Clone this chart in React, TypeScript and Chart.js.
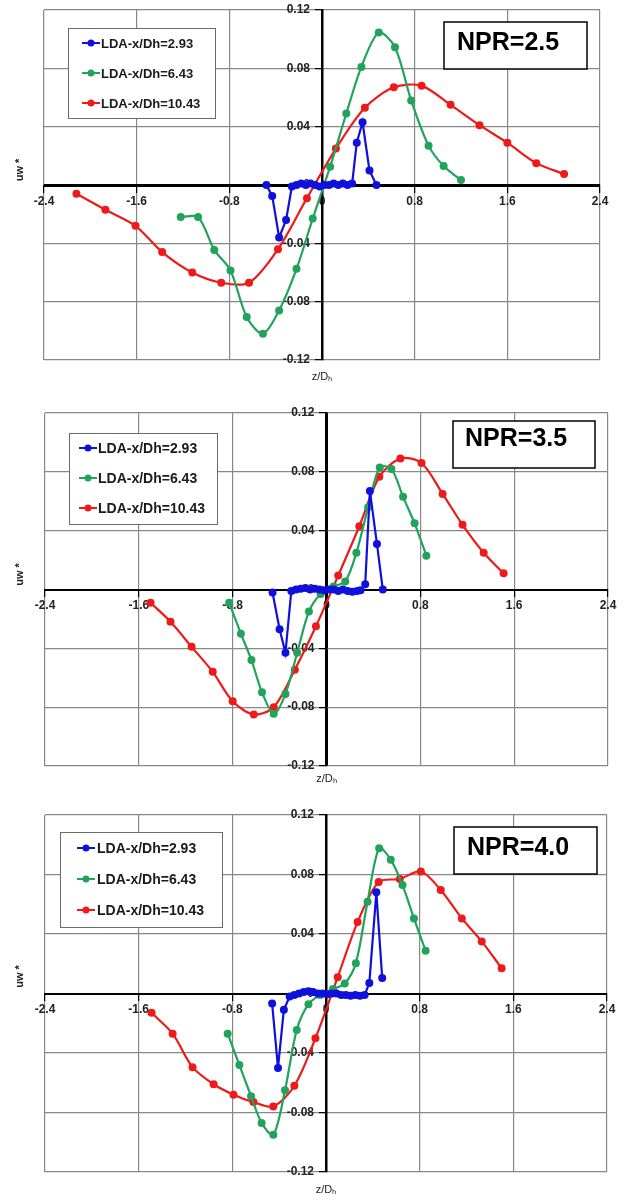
import React, { useEffect, useRef } from "react";
import { Chart, registerables } from "chart.js";

Chart.register(...registerables);

// ---------- tick values / labels ----------
const xTickValues = [-2.4, -1.6, -0.8, 0, 0.8, 1.6, 2.4];
const xTickLabels = ["-2.4", "-1.6", "-0.8", "0", "0.8", "1.6", "2.4"];
const yTickValues = [-0.12, -0.08, -0.04, 0, 0.04, 0.08, 0.12];
const yTickLabels = ["-0.12", "-0.08", "-0.04", "0", "0.04", "0.08", "0.12"];
const xAxisTitle = "z/D\u2095";
const yAxisTitle = "uw *";
const seriesNames = ["LDA-x/Dh=2.93", "LDA-x/Dh=6.43", "LDA-x/Dh=10.43"];
const panelTitles = ["NPR=2.5", "NPR=3.5", "NPR=4.0"];

// ---------- Panel 1 : NPR=2.5 ----------
const p1BlueX = [-0.48, -0.43, -0.37, -0.31, -0.26, -0.22, -0.18, -0.14, -0.1, -0.06, -0.02, 0.02, 0.06, 0.1, 0.14, 0.18, 0.22, 0.26, 0.3, 0.35, 0.41, 0.47];
const p1BlueY = [0.0, -0.0075, -0.036, -0.024, -0.001, 0.0, 0.001, 0.0, 0.001, 0.0, -0.001, 0.0, 0.0, 0.001, 0.0, 0.001, 0.0, 0.001, 0.029, 0.043, 0.01, 0.0];
const p1GreenX = [-1.22, -1.07, -0.93, -0.79, -0.65, -0.51, -0.37, -0.22, -0.08, 0.07, 0.21, 0.34, 0.49, 0.63, 0.77, 0.92, 1.05, 1.2];
const p1GreenY = [-0.022, -0.022, -0.0445, -0.0586, -0.0905, -0.102, -0.086, -0.0575, -0.023, 0.0125, 0.049, 0.081, 0.1045, 0.0944, 0.058, 0.027, 0.013, 0.0034];
const p1RedX = [-2.12, -1.87, -1.61, -1.38, -1.12, -0.87, -0.63, -0.38, -0.13, 0.12, 0.37, 0.62, 0.86, 1.11, 1.36, 1.6, 1.85, 2.09];
const p1RedY = [-0.006, -0.017, -0.028, -0.046, -0.06, -0.067, -0.067, -0.044, -0.009, 0.025, 0.053, 0.067, 0.068, 0.055, 0.041, 0.029, 0.015, 0.0075];

// ---------- Panel 2 : NPR=3.5 ----------
const p2BlueX = [-0.46, -0.4, -0.35, -0.3, -0.26, -0.22, -0.18, -0.14, -0.1, -0.06, -0.02, 0.02, 0.06, 0.1, 0.14, 0.18, 0.22, 0.26, 0.29, 0.33, 0.37, 0.43, 0.48];
const p2BlueY = [-0.002, -0.027, -0.043, -0.001, 0.0, 0.0005, 0.001, 0.0, 0.0005, 0.0, -0.0005, 0.0, 0.0, -0.001, 0.0, -0.001, -0.0015, -0.001, -0.0005, 0.0035, 0.067, 0.031, 0.0];
const p2GreenX = [-0.83, -0.73, -0.64, -0.55, -0.45, -0.35, -0.25, -0.15, -0.05, 0.06, 0.16, 0.255, 0.355, 0.454, 0.553, 0.653, 0.751, 0.851];
const p2GreenY = [-0.009, -0.03, -0.048, -0.0698, -0.0845, -0.071, -0.043, -0.015, -0.003, 0.002, 0.0055, 0.025, 0.056, 0.083, 0.082, 0.063, 0.045, 0.023];
const p2RedX = [-1.5, -1.33, -1.15, -0.97, -0.8, -0.62, -0.45, -0.27, -0.09, 0.1, 0.28, 0.45, 0.63, 0.81, 0.99, 1.16, 1.34, 1.51];
const p2RedY = [-0.009, -0.022, -0.039, -0.056, -0.076, -0.085, -0.08, -0.0545, -0.025, 0.0095, 0.043, 0.0766, 0.089, 0.086, 0.065, 0.044, 0.025, 0.011];

// ---------- Panel 3 : NPR=4.0 ----------
const p3BlueX = [-0.46, -0.41, -0.36, -0.31, -0.27, -0.23, -0.19, -0.15, -0.11, -0.07, -0.03, 0.01, 0.05, 0.09, 0.13, 0.17, 0.21, 0.25, 0.29, 0.33, 0.37, 0.43, 0.48];
const p3BlueY = [-0.0068, -0.05, -0.011, -0.002, -0.001, 0.0, 0.001, 0.0015, 0.001, 0.0, 0.0, -0.0005, 0.0, 0.0, -0.001, -0.001, -0.0015, -0.001, -0.0015, -0.001, 0.007, 0.068, 0.0105];
const p3GreenX = [-0.84, -0.74, -0.64, -0.55, -0.45, -0.35, -0.25, -0.15, -0.05, 0.06, 0.16, 0.255, 0.355, 0.454, 0.553, 0.653, 0.751, 0.851];
const p3GreenY = [-0.027, -0.048, -0.069, -0.087, -0.095, -0.065, -0.0245, -0.0072, -0.001, 0.003, 0.0067, 0.0204, 0.0617, 0.0976, 0.09, 0.073, 0.0505, 0.0287];
const p3RedX = [-1.49, -1.31, -1.14, -0.96, -0.79, -0.62, -0.45, -0.27, -0.09, 0.1, 0.27, 0.45, 0.63, 0.81, 0.98, 1.16, 1.33, 1.5];
const p3RedY = [-0.013, -0.027, -0.0495, -0.061, -0.068, -0.073, -0.076, -0.062, -0.03, 0.011, 0.048, 0.075, 0.077, 0.082, 0.0696, 0.0505, 0.035, 0.017];

const seriesColors = ["#1010dc", "#22a35c", "#ee1a1a"];
const seriesTension = [0, 0.3, 0.3];

const FONT = "'Liberation Sans', Arial, sans-serif";

const zip = (xs: number[], ys: number[]) => xs.map((x, i) => ({ x, y: ys[i] }));

const panelDecor = {
  id: "panelDecor",
  afterDraw(chart: any, _args: any, opts: any) {
    const ctx = chart.ctx;
    const { left, top, bottom } = chart.chartArea;
    ctx.save();
    // y axis title (rotated)
    ctx.save();
    ctx.translate(opts.yTitle.x, (top + bottom) / 2 - opts.yTitle.lift);
    ctx.rotate(-Math.PI / 2);
    ctx.fillStyle = "#222222";
    ctx.font = `bold 11px ${FONT}`;
    ctx.textAlign = "center";
    ctx.textBaseline = "middle";
    ctx.fillText(yAxisTitle, 0, 0);
    ctx.restore();
    // legend
    const lb = opts.legend;
    const bx = left + lb.x;
    const by = top + lb.y;
    ctx.fillStyle = "#ffffff";
    ctx.fillRect(bx, by, lb.w, lb.h);
    ctx.strokeStyle = "#6a6a6a";
    ctx.lineWidth = 1;
    ctx.strokeRect(bx + 0.5, by + 0.5, lb.w, lb.h);
    chart.data.datasets.forEach((ds: any, i: number) => {
      const cy = by + lb.rows[i];
      const lx = bx + lb.lineX;
      ctx.strokeStyle = ds.borderColor;
      ctx.lineWidth = 2;
      ctx.beginPath();
      ctx.moveTo(lx, cy);
      ctx.lineTo(lx + lb.lineLen, cy);
      ctx.stroke();
      ctx.fillStyle = ds.borderColor;
      ctx.beginPath();
      ctx.arc(lx + lb.lineLen / 2, cy, 3.5, 0, Math.PI * 2);
      ctx.fill();
      ctx.fillStyle = "#1a1a1a";
      ctx.font = lb.font;
      ctx.textAlign = "left";
      ctx.textBaseline = "middle";
      ctx.fillText(ds.label, bx + lb.textX, cy + 1);
    });
    // NPR box
    const nb = opts.npr;
    const nx = left + nb.x;
    const ny = top + nb.y;
    ctx.fillStyle = "#ffffff";
    ctx.fillRect(nx, ny, nb.w, nb.h);
    ctx.strokeStyle = "#000000";
    ctx.lineWidth = 1.5;
    ctx.strokeRect(nx, ny, nb.w, nb.h);
    ctx.fillStyle = "#000000";
    ctx.font = `bold 25px ${FONT}`;
    ctx.textAlign = "left";
    ctx.textBaseline = "alphabetic";
    ctx.fillText(nb.text, nx + nb.textX, ny + nb.baseline);
    ctx.restore();
  },
};

type PanelCfg = {
  top: number;
  height: number;
  padTop: number;
  padRight: number;
  padLeft: number;
  xTitleHeight: number;
  xTitlePad: number;
  title: string;
  xs: number[][];
  ys: number[][];
  legend: any;
  npr: any;
  yTitle: any;
};

const panels: PanelCfg[] = [
  {
    top: 0, height: 390, padTop: 10, padRight: 24, padLeft: 44, xTitleHeight: 30, xTitlePad: 6,
    title: panelTitles[0],
    xs: [p1BlueX, p1GreenX, p1RedX], ys: [p1BlueY, p1GreenY, p1RedY],
    legend: { x: 24, y: 18, w: 147, h: 90, rows: [15, 45, 75], lineX: 14, lineLen: 18, textX: 33, font: `bold 13px ${FONT}` },
    npr: { x: 400, y: 12, w: 143, h: 47, textX: 13, baseline: 28 },
    yTitle: { x: 20, lift: 15 },
  },
  {
    top: 390, height: 410, padTop: 23, padRight: 16, padLeft: 45, xTitleHeight: 34, xTitlePad: 14,
    title: panelTitles[1],
    xs: [p2BlueX, p2GreenX, p2RedX], ys: [p2BlueY, p2GreenY, p2RedY],
    legend: { x: 24, y: 20, w: 148, h: 91, rows: [15, 45, 75], lineX: 10, lineLen: 18, textX: 29, font: `bold 14px ${FONT}` },
    npr: { x: 408, y: 8, w: 142, h: 47, textX: 12, baseline: 25 },
    yTitle: { x: 20, lift: 15 },
  },
  {
    top: 800, height: 399, padTop: 15, padRight: 17, padLeft: 45, xTitleHeight: 27, xTitlePad: 2,
    title: panelTitles[2],
    xs: [p3BlueX, p3GreenX, p3RedX], ys: [p3BlueY, p3GreenY, p3RedY],
    legend: { x: 15, y: 17, w: 162, h: 95, rows: [16, 47, 78], lineX: 17, lineLen: 18, textX: 37, font: `bold 14px ${FONT}` },
    npr: { x: 409, y: 12, w: 143, h: 47, textX: 13, baseline: 28 },
    yTitle: { x: 20, lift: 17 },
  },
];

function Panel({ cfg }: { cfg: PanelCfg }) {
  const ref = useRef<HTMLCanvasElement | null>(null);
  useEffect(() => {
    if (!ref.current) return;
    const datasets = seriesNames.map((name, i) => ({
      label: name,
      data: zip(cfg.xs[i], cfg.ys[i]),
      borderColor: seriesColors[i],
      backgroundColor: seriesColors[i],
      borderWidth: 2.2,
      pointRadius: 4,
      pointBorderWidth: 0,
      pointBackgroundColor: seriesColors[i],
      tension: seriesTension[i],
      showLine: true,
      fill: false,
      xAxisID: "x",
      yAxisID: "y",
    }));
    const gridColor = (c: any) => (c.tick && c.tick.value === 0 ? "#000000" : "#888888");
    const gridWidth = (c: any) => (c.tick && c.tick.value === 0 ? 2 : 1.2);
    const zeroPad = (s: any) => {
      s.paddingTop = 0;
      s.paddingBottom = 0;
      s.paddingLeft = 0;
      s.paddingRight = 0;
    };
    const chart = new Chart(ref.current, {
      type: "scatter",
      data: { datasets },
      plugins: [panelDecor],
      options: {
        animation: false,
        responsive: false,
        devicePixelRatio: 1,
        layout: { padding: { left: cfg.padLeft, top: cfg.padTop, right: cfg.padRight, bottom: 0 } },
        plugins: {
          legend: { display: false },
          title: { display: false },
          tooltip: { enabled: false },
          panelDecor: { legend: cfg.legend, npr: { ...cfg.npr, text: cfg.title }, yTitle: cfg.yTitle },
        } as any,
        scales: {
          x: {
            type: "linear",
            axis: "x",
            position: "center",
            min: -2.4,
            max: 2.4,
            afterBuildTicks: (s: any) => {
              s.ticks = xTickValues.map((v) => ({ value: v }));
            },
            afterFit: (s: any) => {
              s.height = 0;
              zeroPad(s);
            },
            ticks: {
              callback: (_v: any, i: number) => xTickLabels[i],
              font: { family: FONT, size: 12, weight: "bold" },
              color: "#222222",
              padding: 3,
              maxRotation: 0,
              autoSkip: false,
            },
            grid: { color: gridColor, lineWidth: gridWidth, tickLength: 6, tickColor: "#000000", tickWidth: 1.2 },
            border: { display: true, color: "#000000", width: 2 },
          },
          y: {
            type: "linear",
            axis: "y",
            position: "center",
            min: -0.12,
            max: 0.12,
            afterBuildTicks: (s: any) => {
              s.ticks = yTickValues.map((v) => ({ value: v }));
            },
            afterFit: (s: any) => {
              s.width = 0;
              zeroPad(s);
            },
            ticks: {
              callback: (_v: any, i: number) => yTickLabels[i],
              font: { family: FONT, size: 12, weight: "bold" },
              color: "#222222",
              padding: 6,
              autoSkip: false,
            },
            grid: { color: gridColor, lineWidth: gridWidth, tickLength: 6, tickColor: "#000000", tickWidth: 1.2 },
            border: { display: true, color: "#000000", width: 2.5 },
          },
          x2: {
            type: "linear",
            axis: "x",
            position: "bottom",
            min: -2.4,
            max: 2.4,
            grid: { display: false, drawTicks: false },
            border: { display: false },
            ticks: { display: false },
            title: {
              display: true,
              text: xAxisTitle,
              font: { family: FONT, size: 11 },
              color: "#222222",
              padding: { top: 0, bottom: cfg.xTitlePad },
            },
            afterFit: (s: any) => {
              s.height = cfg.xTitleHeight;
              zeroPad(s);
            },
          },
        } as any,
      },
    } as any);
    return () => chart.destroy();
  }, [cfg]);
  return (
    <canvas
      ref={ref}
      width={624}
      height={cfg.height}
      style={{ position: "absolute", left: 0, top: cfg.top, width: 624, height: cfg.height }}
    />
  );
}

export default function App() {
  return (
    <div style={{ position: "absolute", left: 0, top: 0, width: 624, height: 1199, background: "#ffffff" }}>
      {panels.map((p, i) => (
        <Panel key={i} cfg={p} />
      ))}
    </div>
  );
}
